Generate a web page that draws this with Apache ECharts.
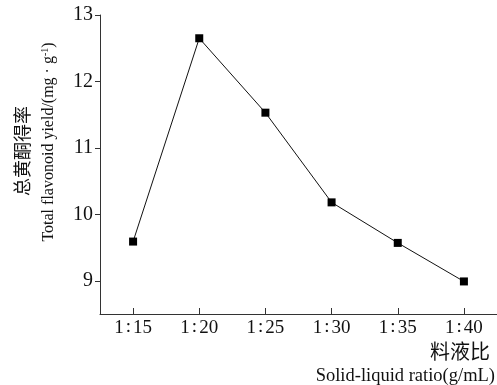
<!DOCTYPE html>
<html><head><meta charset="utf-8">
<script src="https://cdn.jsdelivr.net/npm/echarts@6/dist/echarts.min.js"></script>
<style>html,body{margin:0;padding:0;background:#fff}#c{width:497px;height:385px}</style>
</head><body><div id="c"></div>
<script>
const categories = ['1:15', '1:20', '1:25', '1:30', '1:35', '1:40'];
const yieldValues = [9.59, 12.65, 11.53, 10.18, 9.57, 8.99];
const yTicks = [9, 10, 11, 12, 13];

const serif = '"Liberation Serif","DejaVu Serif",serif';
const cjk = '"Noto Sans CJK SC",sans-serif';
const chart = echarts.init(document.getElementById('c'));
chart.setOption({
  animation: false,
  backgroundColor: '#fff',
  grid: { left: 100, top: 15, width: 399, height: 299, containLabel: false },
  xAxis: {
    type: 'category', data: categories, boundaryGap: true,
    axisLine: { lineStyle: { color: '#333', width: 1 } },
    axisTick: { show: true, alignWithLabel: true, inside: true, length: 6, interval: 0, lineStyle: { color: '#333', width: 1 } },
    axisLabel: { color: '#111', fontFamily: serif, fontSize: 19, margin: 4, interval: 0, hideOverlap: false,
      formatter: function (v) { const p = v.split(':'); return '{a|' + p[0] + '}{c|:}{a|' + p[1] + '}'; },
      rich: {
        a: { fontFamily: serif, fontSize: 19, color: '#111' },
        c: { fontFamily: serif, fontSize: 19, color: '#111', padding: [0, 2, 2, 2] }
      } }
  },
  yAxis: {
    type: 'value', min: 8.5, max: 13,
    splitLine: { show: false },
    axisLine: { show: true, lineStyle: { color: '#333', width: 1 } },
    axisTick: { show: true, inside: false, length: 5, lineStyle: { color: '#333', width: 1 }, customValues: yTicks },
    axisLabel: { color: '#111', fontFamily: serif, fontSize: 20, margin: 7, customValues: yTicks }
  },
  series: [{
    type: 'line', data: yieldValues,
    symbol: 'rect', symbolSize: 8,
    lineStyle: { color: '#111', width: 1 },
    itemStyle: { color: '#000' }
  }],
  graphic: [
    { type: 'text', x: 22, y: 151, rotation: Math.PI / 2,
      style: { text: '总黄酮得率', font: '18px ' + cjk, fill: '#111', align: 'center', verticalAlign: 'middle' } },
    { type: 'text', x: 49, y: 142, rotation: Math.PI / 2,
      style: { text: 'Total flavonoid yield/(mg · g{s|-1})', fill: '#111', align: 'center', verticalAlign: 'middle',
        font: '16px ' + serif,
        rich: { s: { fontSize: 10, fontFamily: serif, fill: '#111', verticalAlign: 'top', padding: [0,0,8,0] } } } },
    { type: 'text', right: 7, top: 341,
      style: { text: '料液比', font: '20px ' + cjk, fill: '#111' } },
    { type: 'text', right: 2, top: 367,
      style: { text: 'Solid-liquid ratio(g/mL)', font: '18.5px ' + serif, fill: '#111' } }
  ]
});
</script></body></html>
